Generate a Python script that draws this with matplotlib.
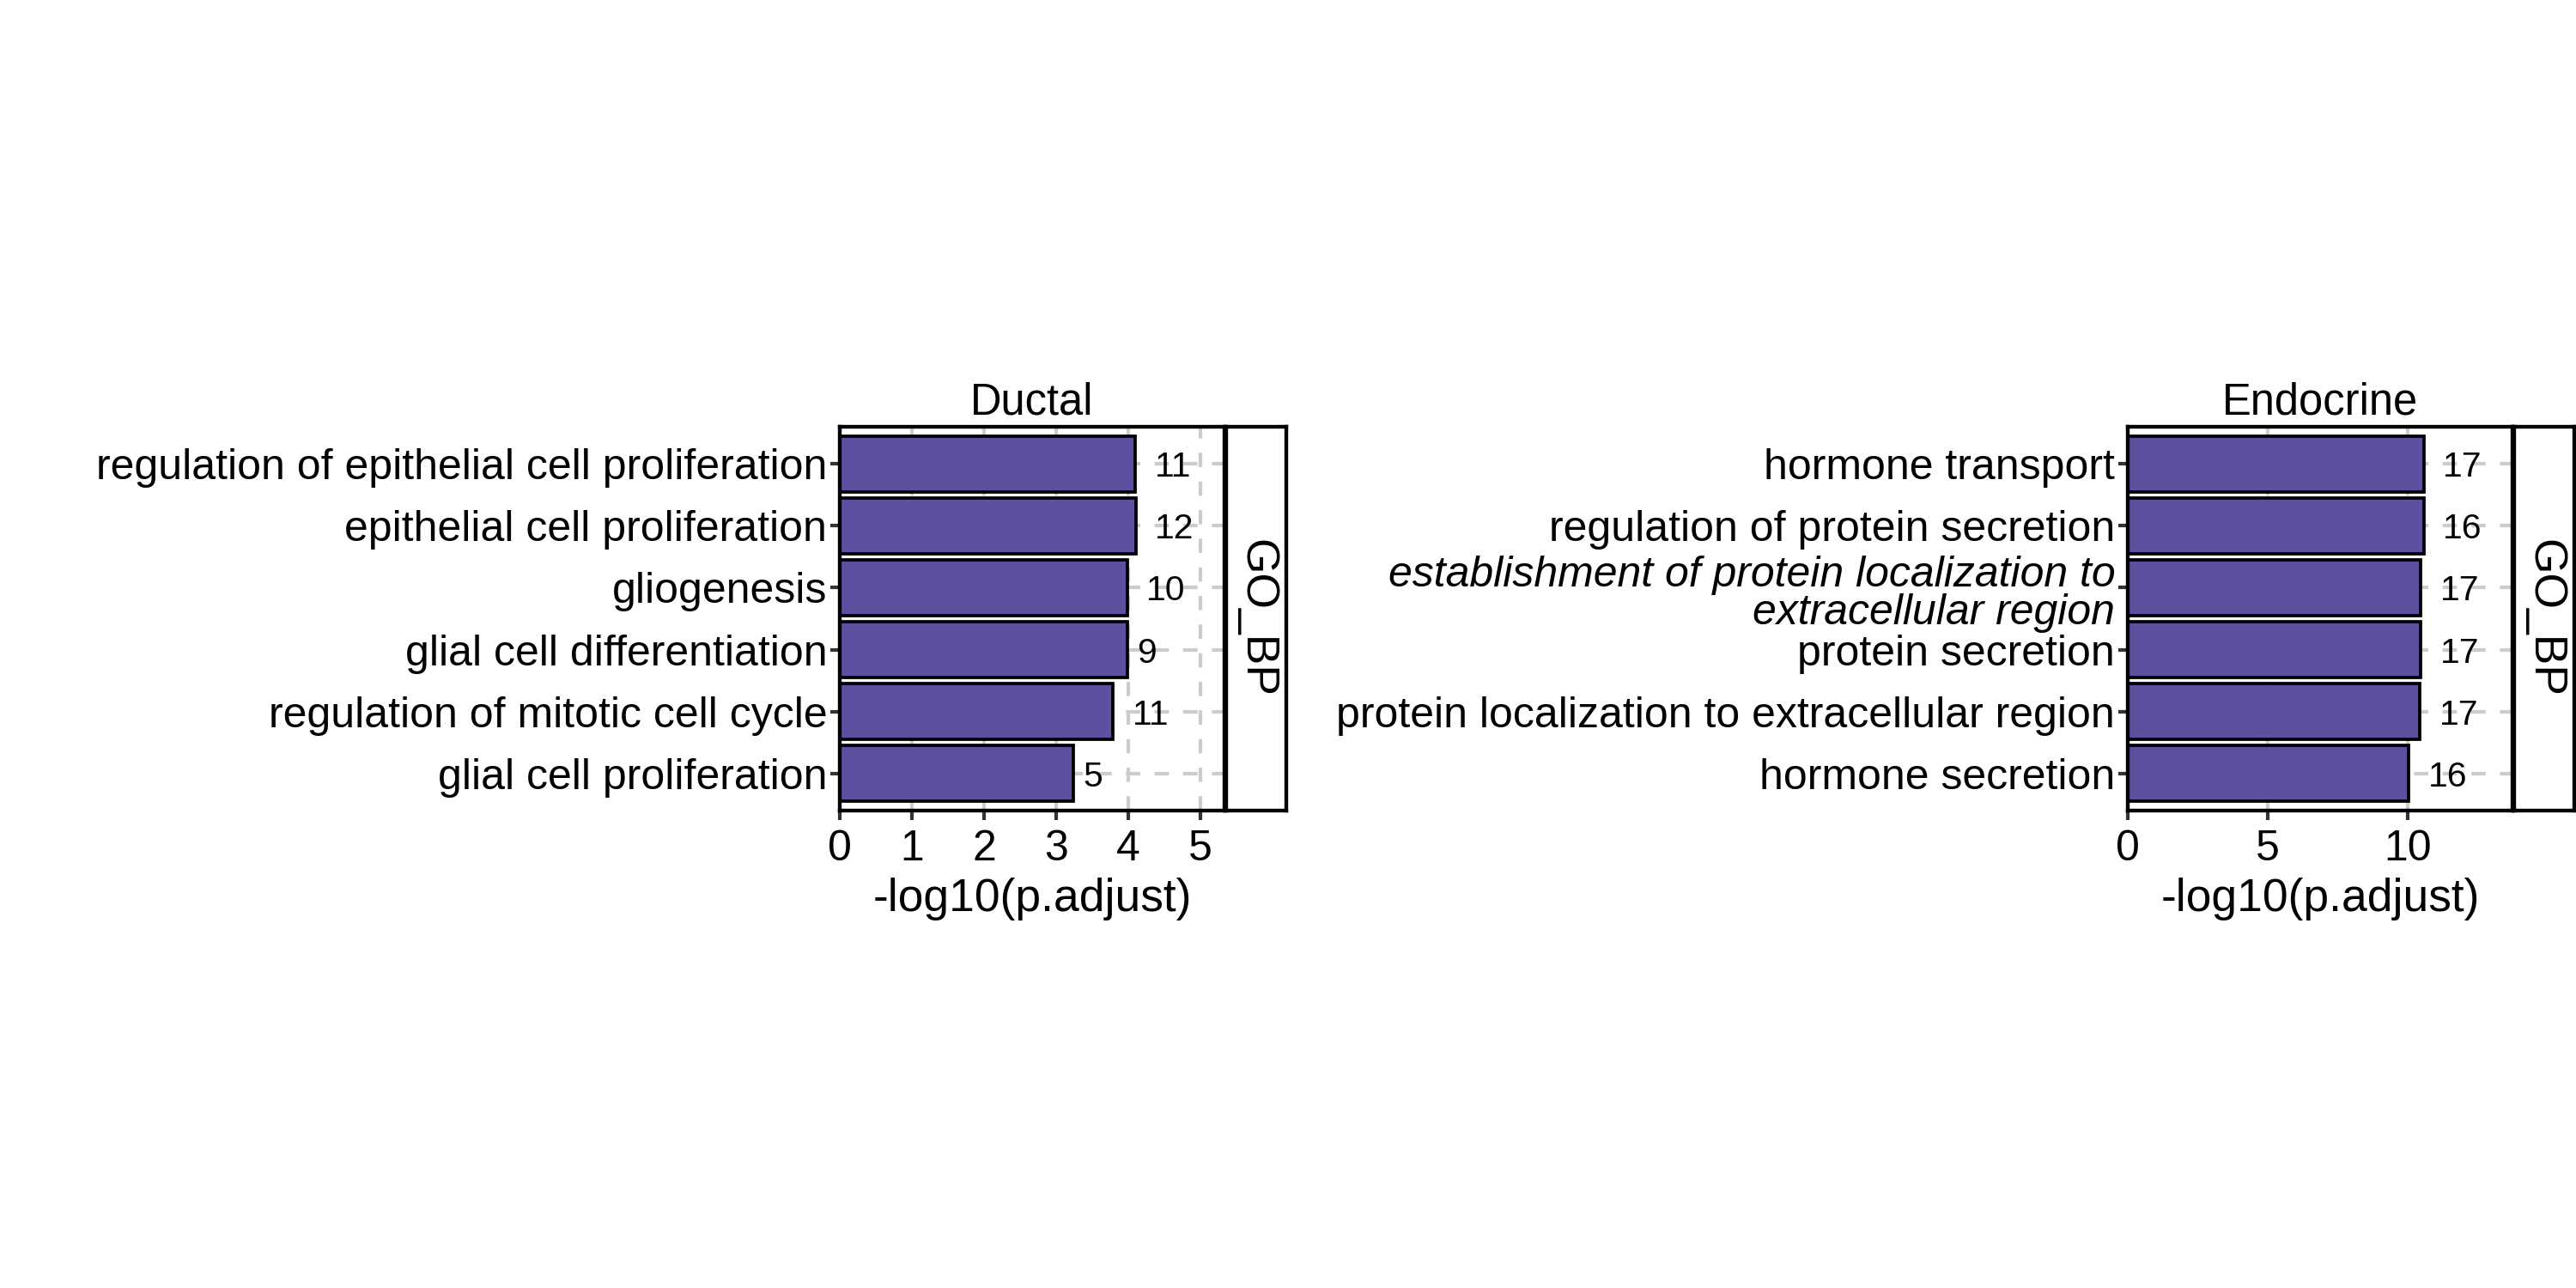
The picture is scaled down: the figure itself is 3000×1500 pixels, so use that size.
import matplotlib
matplotlib.use("Agg")
import matplotlib.pyplot as plt
from matplotlib.transforms import ScaledTranslation

plt.rcParams['font.family'] = ['Liberation Sans', 'DejaVu Sans']

# ---------------- data ----------------
ductal_terms = [
    "regulation of epithelial cell proliferation",
    "epithelial cell proliferation",
    "gliogenesis",
    "glial cell differentiation",
    "regulation of mitotic cell cycle",
    "glial cell proliferation",
]
ductal_values = [4.09, 4.10, 3.98, 3.98, 3.78, 3.24]
ductal_counts = [11, 12, 10, 9, 11, 5]

endocrine_terms = [
    "hormone transport",
    "regulation of protein secretion",
    "establishment of protein localization to\nextracellular region",
    "protein secretion",
    "protein localization to extracellular region",
    "hormone secretion",
]
endocrine_values = [10.58, 10.58, 10.46, 10.46, 10.44, 10.05]
endocrine_counts = [17, 16, 17, 17, 17, 16]

italic_terms = ["establishment of protein localization to\nextracellular region"]

ductal_xticks = [0, 1, 2, 3, 4, 5]
endocrine_xticks = [0, 5, 10]
panel_titles = ["Ductal", "Endocrine"]
strip_label = "GO_BP"
x_label = "-log10(p.adjust)"

# ---------------- style ----------------
BAR_COLOR = "#5D50A0"
GRID_COLOR = "#CCCCCC"
TICK_COLOR = "#333333"
COUNT_FS = 9.8

W, H = 3000, 1500
fig = plt.figure(figsize=(10, 5), dpi=300)
fig.patch.set_facecolor("white")


def px_axes(x0, x1, y0, y1):
    return fig.add_axes([x0 / W, 1 - y1 / H, (x1 - x0) / W, (y1 - y0) / H])


def draw_panel(x0, terms, values, counts, xticks, title):
    top, bottom = 497, 944
    ax = px_axes(x0, x0 + 448, top, bottom)
    n = len(terms)
    ypos = list(range(n, 0, -1))
    ax.set_xlim(0, 1.3 * max(values))
    ax.set_ylim(0.4, n + 0.6)
    ax.set_xticks(xticks)
    ax.set_yticks(ypos, labels=terms)
    ax.set_axisbelow(True)
    ax.grid(True, color=GRID_COLOR, linewidth=1.0, linestyle=(0, (4, 4)))

    ax.barh(ypos, values, height=0.9, color=BAR_COLOR, edgecolor="black",
            linewidth=0.9, zorder=2)

    for y, v, c in zip(ypos, values, counts):
        s = str(c)
        off = 0.5 * len(s) * 0.556 * COUNT_FS
        ax.annotate(s, (v, y), xytext=(off, 0), textcoords="offset points",
                    ha="left", va="center_baseline", fontsize=COUNT_FS,
                    color="black", zorder=3)

    for sp in ax.spines.values():
        sp.set_color("black")
        sp.set_linewidth(1.05)
    ax.tick_params(axis="both", direction="out", length=2.75, width=1.0,
                   color=TICK_COLOR, labelsize=12, labelcolor="black")
    ax.tick_params(axis="x", pad=2.5)
    ax.tick_params(axis="y", pad=0.8)

    for lab in ax.get_yticklabels():
        txt = lab.get_text()
        if "\n" in txt:
            lab.set_verticalalignment("center")
            lab.set_linespacing(0.96)
            lab.set_transform(lab.get_transform() +
                              ScaledTranslation(0, -1.8 / 72, fig.dpi_scale_trans))
        if txt in italic_terms:
            lab.set_fontstyle("italic")

    ax.set_title(title, fontsize=12.2, pad=3.4)
    ax.set_xlabel(x_label, fontsize=12.8, labelpad=2.5)

    sax = px_axes(x0 + 450, x0 + 520, top, bottom)
    sax.set_xticks([])
    sax.set_yticks([])
    sax.set_facecolor("white")
    for sp in sax.spines.values():
        sp.set_color("black")
        sp.set_linewidth(1.05)
    sax.text(0.5, 0.5, strip_label, rotation=270, ha="center", va="center",
             fontsize=12.8, transform=sax.transAxes)
    return ax


draw_panel(978, ductal_terms, ductal_values, ductal_counts, ductal_xticks,
           panel_titles[0])
draw_panel(2478, endocrine_terms, endocrine_values, endocrine_counts,
           endocrine_xticks, panel_titles[1])

fig.savefig("out.png", dpi=300, facecolor="white")
